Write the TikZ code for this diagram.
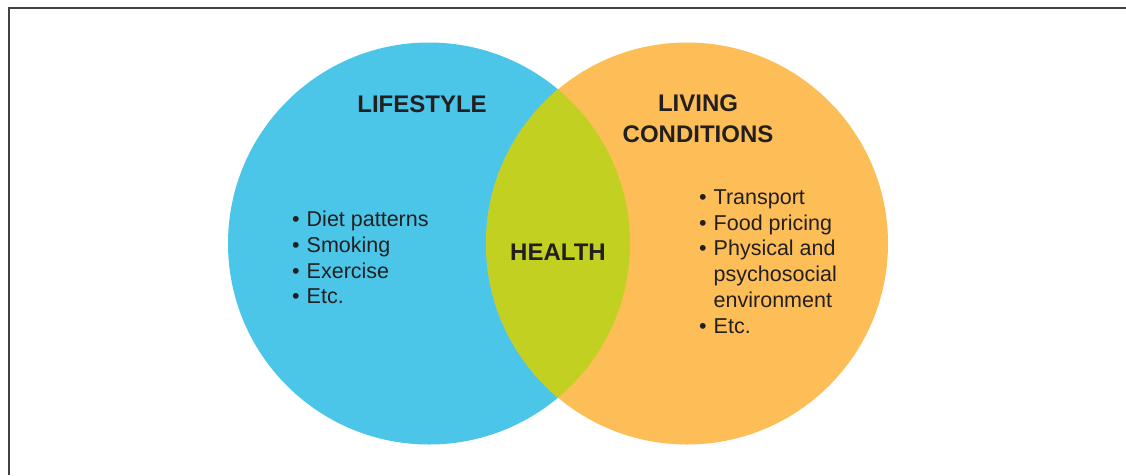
\documentclass[tikz,border=0pt]{standalone}
\usepackage{fontspec}
\setmainfont{Liberation Sans}
\usetikzlibrary{positioning}

\definecolor{lifeblue}{HTML}{4BC6E8}
\definecolor{condorange}{HTML}{FDBE57}
\definecolor{healthgreen}{HTML}{C2D021}
\definecolor{inkdark}{HTML}{231F20}

\newcommand{\itm}{\textbullet\hspace{7pt}}
\newcommand{\noitm}{\phantom{\textbullet}\hspace{7pt}}

\begin{document}
\begin{tikzpicture}[x=1pt, y=-1pt,
    circ/.style={circle, minimum size=402pt, inner sep=0pt},
    heading/.style={font=\fontsize{24}{32}\selectfont\bfseries, text=inkdark, align=center},
    items/.style={font=\fontsize{21.5}{25.7}\selectfont, text=inkdark, align=left, inner sep=0pt}]

    \useasboundingbox (0,0) rectangle (1126,475);
    \draw[inkdark!85, line width=1.5pt] (9,475) -- (9,8) -- (1126,8);

    % Circles
    \node[circ, fill=lifeblue] (life) at (429,243.5) {};
    \node[circ, fill=condorange] (cond) at (687,243.5) {};
    \begin{scope}
        \clip (life.center) circle (201pt);
        \fill[healthgreen] (cond.center) circle (201pt);
    \end{scope}

    % Headings
    \node[heading] (lifestyle) at (422,104) {LIFESTYLE};
    \node[heading] (living) at (698,119) {LIVING\\[-1pt]CONDITIONS};
    \node[heading] (health) at (558,252) {HEALTH};

    % Lists
    \node[items, anchor=west] (lifelist) at (292,257.5)
        {\itm Diet patterns\\ \itm Smoking\\ \itm Exercise\\ \itm Etc.};
    \node[items, anchor=west] (condlist) at (699,261.5)
        {\itm Transport\\ \itm Food pricing\\ \itm Physical and\\
         \noitm psychosocial\\ \noitm environment\\ \itm Etc.};

\end{tikzpicture}
\end{document}
